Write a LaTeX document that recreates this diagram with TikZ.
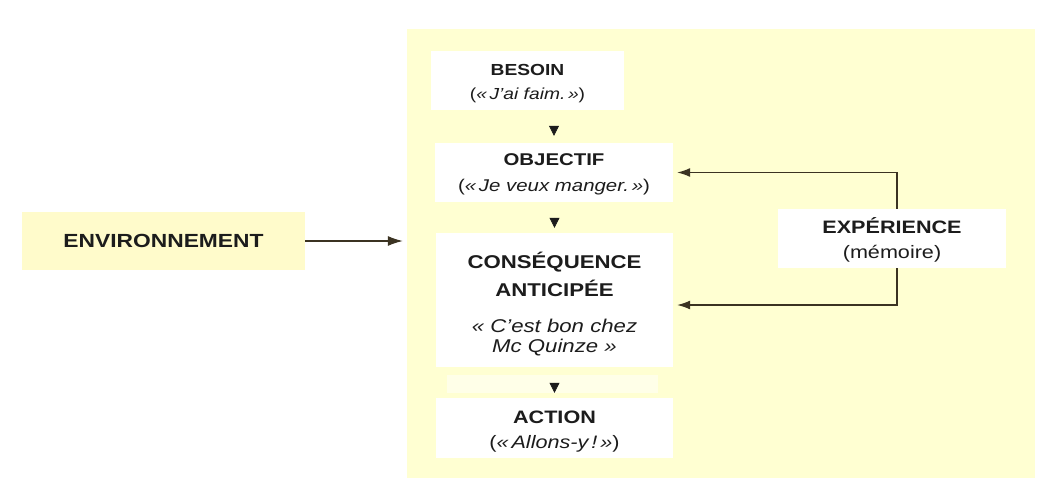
\documentclass[tikz,border=0pt]{standalone}
\usepackage{fontspec}
\setmainfont{Liberation Sans}[FakeStretch=1.2]
\usetikzlibrary{arrows.meta,calc}

\definecolor{panelfill}{HTML}{FFFFD2}
\definecolor{envfill}{HTML}{FFFBCB}
\definecolor{ink}{HTML}{1C1C1C}
\definecolor{wire}{HTML}{3B3322}

\newcommand{\fs}[2]{\fontsize{#1}{#2}\selectfont}
% invisible strut that lowers the first line of a card
\newcommand{\lift}[1]{\rule{0pt}{#1}}

\begin{document}
\begin{tikzpicture}[x=1pt,y=-1pt,
  card/.style={fill=white, inner sep=0pt, align=center, text=ink, anchor=center},
  flowtip/.style={draw=ink, line width=0.6pt, -{Triangle[length=10pt,width=10pt]}},
  wireline/.style={draw=wire, line width=1.2pt},
  feedtip/.style={-{Latex[length=13pt,width=9pt]}},
  envtip/.style={-{Latex[length=15pt,width=10pt]}}]

\useasboundingbox (0,0) rectangle (1052,496);

% yellow background panel
\node (panel) [fill=panelfill, inner sep=0pt, minimum width=628pt, minimum height=449pt]
  at (721,253.5) {};

% left input box
\node (env) [fill=envfill, inner sep=0pt, minimum width=283pt, minimum height=58pt,
  text=ink, font=\fs{19}{22}\bfseries] at (163.5,241) {ENVIRONNEMENT};

% central chain
\node (besoin) [card, minimum width=193pt, minimum height=59pt, font=\fs{16}{24}]
  at (527.5,80.5) {\lift{17pt}\textbf{BESOIN}\\(\textit{«\,J’ai faim.\,»})};

\node (objectif) [card, minimum width=238pt, minimum height=59pt, font=\fs{17}{26}]
  at (554,172.5) {\lift{16.5pt}\textbf{OBJECTIF}\\(\textit{«\,Je veux manger.\,»})};

\node (consequence) [card, minimum width=237pt, minimum height=134pt, font=\fs{18.5}{20}]
  at (554.5,300) {\lift{24pt}\textbf{CONSÉQUENCE}\\[7pt]\textbf{ANTICIPÉE}\\[16pt]\textit{« C’est bon chez}\\\textit{Mc Quinze »}};

\node (gap) [fill=white, fill opacity=0.5, inner sep=0pt, minimum width=211pt, minimum height=18pt]
  at (552.5,384) {};

\node (action) [card, minimum width=237pt, minimum height=60pt, font=\fs{18}{25}]
  at (554.5,428) {\lift{20pt}\textbf{ACTION}\\(\textit{«\,Allons-y\,!\,»})};

% memory box
\node (experience) [card, minimum width=228pt, minimum height=59pt, font=\fs{18}{25}]
  at (892,238.5) {\lift{19pt}\textbf{EXPÉRIENCE}\\(mémoire)};

% arrow heads between the steps
\draw[flowtip] ($(objectif.north)+(0,-17)$) -- ($(objectif.north)+(0,-7)$);
\draw[flowtip] ($(consequence.north)+(0,-15)$) -- ($(consequence.north)+(0,-5)$);
\draw[flowtip] ($(action.north)+(0,-15)$) -- ($(action.north)+(0,-5)$);

% environment feeds the panel
\coordinate (envend) at ($(panel.west |- env.east)+(-4,0)$);
\draw[wireline, envtip] (env.east) -- (envend);

% experience feeds back into objective and anticipated consequence
\coordinate (objin) at ($(objectif.east)+(4,0)$);
\coordinate (conin) at ($(consequence.east)+(4,5)$);
\draw[wireline, feedtip] ([xshift=5pt]experience.north) |- (objin);
\draw[wireline, feedtip] ([xshift=5pt]experience.south) |- (conin);

\end{tikzpicture}
\end{document}
